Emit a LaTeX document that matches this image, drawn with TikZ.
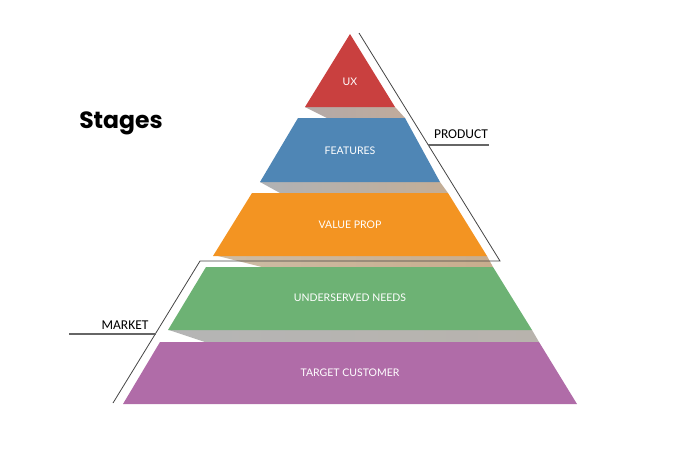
\documentclass[tikz,border=0pt]{standalone}
\usepackage{fontspec}
\setmainfont{Lato}
\newfontfamily\poppins{Poppins}
\newfontfamily\carlito{Carlito}
\definecolor{cux}{HTML}{C9403F}
\definecolor{cfeat}{HTML}{4F86B5}
\definecolor{cval}{HTML}{F39422}
\definecolor{cneed}{HTML}{6DB274}
\definecolor{ccust}{HTML}{B06CA8}
\definecolor{cline}{HTML}{444444}
\tikzset{
  lvl/.style={font=\fontsize{10.5}{12}\selectfont, text=white, inner sep=0pt},
  side/.style={font=\carlito\fontsize{13.5}{15}\selectfont, text=black, inner sep=0pt},
  brk/.style={draw=cline, line width=0.8pt},
  tick/.style={draw=gray!80!black, line width=1.1pt}
}
\begin{document}
\begin{tikzpicture}[x=1pt,y=-1pt]
\useasboundingbox (0,0) rectangle (700,450);
% shaded connecting bands
\shade[left color={rgb,255:red,179;green,170;blue,168}, right color={rgb,255:red,192;green,171;blue,156}]
  (305,107) -- (395,107) -- (405,118) -- (327,118) -- cycle;
\shade[left color={rgb,255:red,176;green,178;blue,181}, right color={rgb,255:red,196;green,174;blue,150}]
  (260,182) -- (440,182) -- (448,193) -- (280,193) -- cycle;
\shade[left color={rgb,255:red,205;green,188;blue,165}, right color={rgb,255:red,200;green,173;blue,141}]
  (218,256) -- (487,256) -- (493,267) -- (262,267) -- cycle;
\shade[left color={rgb,255:red,181;green,181;blue,181}, right color={rgb,255:red,184;green,179;blue,173}]
  (169,330) -- (532,330) -- (539,342) -- (205,342) -- cycle;
% levels
\fill[cux] (350,34) -- (395,107) -- (305,107) -- cycle;
\fill[cfeat] (298,118) -- (405,118) -- (440,182) -- (260,182) -- cycle;
\fill[cval] (252,193) -- (448,193) -- (487,256) -- (213,256) -- cycle;
\fill[cneed] (206,267) -- (493,267) -- (532,330) -- (168,330) -- cycle;
\fill[ccust] (160,342) -- (539,342) -- (577,404) -- (123,404) -- cycle;
% labels
\node[lvl] (ux) at (350,82) {UX};
\node[lvl] (feat) at (350,151) {FEATURES};
\node[lvl] (val) at (350,225) {VALUE PROP};
\node[lvl] (need) at (350,298) {UNDERSERVED NEEDS};
\node[lvl] (cust) at (350,373) {TARGET CUSTOMER};
% brackets
\coordinate (ptop) at (359,33);
\coordinate (pbot) at (500,261);
\coordinate (mtop) at (200,261);
\coordinate (mbot) at (113,403);
\draw[brk] (ptop) -- (pbot) -- (mtop) -- (mbot);
\node[side, anchor=base] (product) at (461,138) {PRODUCT};
\coordinate (pt1) at (428,145);
\coordinate (pt2) at (489,145);
\draw[tick] (pt1) -- (pt2);
\node[side, anchor=base] (market) at (125,329) {MARKET};
\coordinate (mt1) at (69,334);
\coordinate (mt2) at (156,334);
\draw[tick] (mt1) -- (mt2);
\node[font=\poppins\bfseries\fontsize{23.5}{26}\selectfont, anchor=base, inner sep=0pt] (stages) at (121,128) {Stages};
\end{tikzpicture}
\end{document}
